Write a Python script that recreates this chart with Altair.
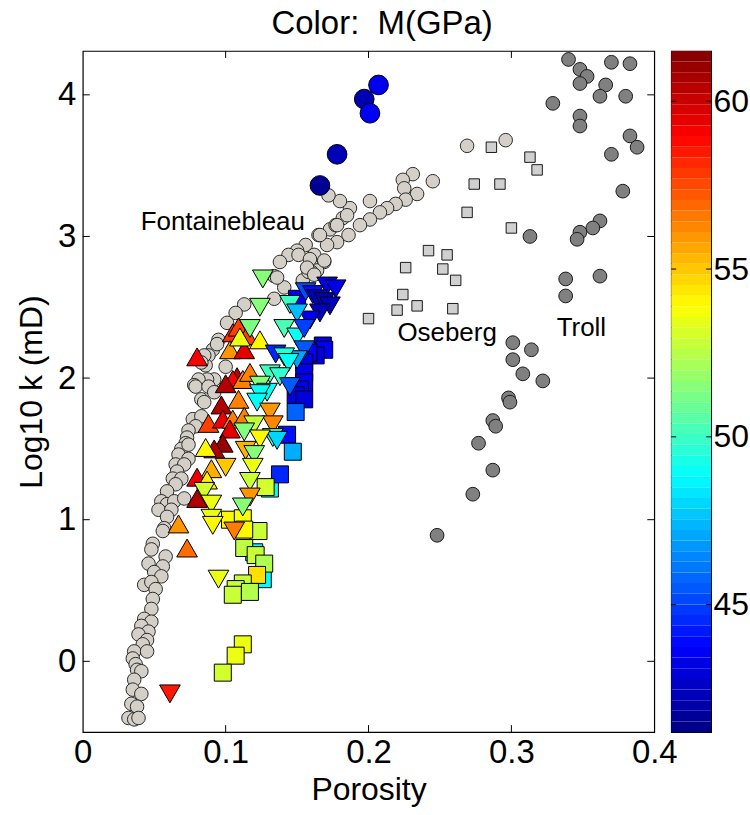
import altair as alt
import pandas as pd
import numpy as np

FONT = "Liberation Sans"

# ---------------- data (porosity, log10 k) ----------------
FONTAINEBLEAU_GREY = [
    (0.269, 3.64), (0.296, 3.68), (0.245, 3.39), (0.231, 3.44), (0.224, 3.40), (0.225, 3.34),
    (0.234, 3.30), (0.226, 3.26), (0.219, 3.23), (0.213, 3.20), (0.208, 3.17), (0.201, 3.25),
    (0.201, 3.12), (0.194, 3.08), (0.186, 3.01), (0.178, 2.96), (0.171, 2.94), (0.165, 3.01),
    (0.173, 3.05), (0.177, 3.08), (0.182, 3.13), (0.187, 3.20), (0.180, 3.25), (0.172, 3.29),
    (0.156, 2.94), (0.162, 2.87), (0.169, 2.82), (0.164, 2.76), (0.160, 2.75), (0.154, 2.69),
    (0.150, 2.90), (0.144, 2.87), (0.138, 2.82), (0.134, 2.72), (0.141, 2.64), (0.134, 2.56),
    (0.113, 2.52), (0.107, 2.46), (0.101, 2.39), (0.095, 2.27), (0.091, 2.20), (0.088, 2.16),
    (0.086, 2.09), (0.100, 2.08), (0.094, 2.24), (0.085, 2.16), (0.083, 2.11), (0.092, 1.99),
    (0.087, 1.99), (0.081, 1.99), (0.078, 1.95), (0.079, 1.94), (0.088, 1.94), (0.092, 1.90),
    (0.083, 1.85), (0.085, 1.83), (0.077, 1.71), (0.083, 1.73), (0.079, 1.66), (0.074, 1.63),
    (0.073, 1.58), (0.072, 1.54), (0.069, 1.50), (0.074, 1.53), (0.067, 1.46), (0.074, 1.43),
    (0.065, 1.39), (0.071, 1.39), (0.066, 1.34), (0.063, 1.29), (0.069, 1.29), (0.065, 1.25),
    (0.059, 1.20), (0.055, 1.13), (0.059, 1.11), (0.064, 1.13), (0.053, 1.07), (0.062, 1.07),
    (0.071, 1.15), (0.059, 1.02), (0.057, 0.94), (0.056, 0.92), (0.049, 0.83), (0.048, 0.79),
    (0.058, 0.74), (0.046, 0.69), (0.056, 0.67), (0.050, 0.63), (0.055, 0.60), (0.043, 0.54),
    (0.048, 0.56), (0.051, 0.51), (0.049, 0.44), (0.048, 0.37), (0.043, 0.30), (0.048, 0.28),
    (0.041, 0.25), (0.046, 0.21), (0.039, 0.19), (0.045, 0.15), (0.042, 0.12), (0.036, 0.07),
    (0.045, 0.07), (0.035, 0.02), (0.037, -0.02), (0.038, -0.06), (0.041, -0.07), (0.036, -0.13),
    (0.035, -0.20), (0.041, -0.23), (0.034, -0.30), (0.038, -0.32), (0.032, -0.40), (0.036, -0.41),
    (0.039, -0.40), (0.185, 3.15), (0.178, 3.08), (0.166, 3.01), (0.169, 2.83), (0.158, 2.75),
    (0.151, 2.87), (0.159, 2.84), (0.157, 2.78), (0.162, 2.73), (0.136, 2.71),
]

# Fontainebleau samples with modulus (porosity, log10 k, M GPa)
FONTAINEBLEAU_M = [
    (0.207, 4.07, 43.4), (0.197, 3.97, 42.2), (0.201, 3.87, 43.6), (0.178, 3.58, 42.3), (0.166, 3.36, 41.6),
]

OSEBERG = [
    (0.286, 3.63), (0.313, 3.56), (0.318, 3.47), (0.274, 3.37), (0.292, 3.37), (0.269, 3.17),
    (0.300, 3.06), (0.242, 2.90), (0.255, 2.87), (0.226, 2.78), (0.252, 2.77), (0.261, 2.69),
    (0.224, 2.59), (0.234, 2.51), (0.220, 2.48), (0.259, 2.49), (0.200, 2.42),
]

TROLL = [
    (0.340, 4.25), (0.348, 4.18), (0.353, 4.13), (0.348, 4.08), (0.370, 4.23), (0.383, 4.22),
    (0.366, 4.07), (0.362, 3.99), (0.380, 3.99), (0.329, 3.94), (0.348, 3.85), (0.348, 3.78),
    (0.383, 3.71), (0.388, 3.63), (0.370, 3.58), (0.378, 3.32), (0.313, 3.00), (0.362, 3.11),
    (0.357, 3.06), (0.348, 3.03), (0.346, 2.98), (0.338, 2.70), (0.362, 2.72), (0.338, 2.58),
    (0.301, 2.25), (0.314, 2.20), (0.301, 2.13), (0.308, 2.03), (0.322, 1.98), (0.298, 1.86),
    (0.299, 1.83), (0.287, 1.70), (0.289, 1.66), (0.277, 1.54), (0.287, 1.35), (0.273, 1.18),
    (0.248, 0.89),
]

# coloured samples (porosity, log10 k, M GPa)
SQUARES_M = [
    (0.120, 0.77, 48.8), (0.126, 0.58, 48.8), (0.131, 1.22, 48.8), (0.150, 2.56, 43.5),
    (0.168, 2.23, 43.3), (0.169, 2.20, 43.5), (0.163, 2.16, 43.0), (0.158, 2.18, 43.7),
    (0.155, 2.11, 43.3), (0.155, 2.04, 43.3), (0.155, 1.97, 43.5), (0.152, 1.92, 43.5),
    (0.149, 1.88, 43.3), (0.155, 1.85, 43.0), (0.149, 1.76, 45.7), (0.143, 1.60, 44.0),
    (0.147, 1.48, 47.2), (0.138, 1.32, 44.5), (0.128, 1.23, 53.0), (0.103, 1.00, 54.0),
    (0.112, 1.01, 53.8), (0.123, 0.92, 52.8), (0.113, 0.93, 54.0), (0.113, 0.80, 52.6),
    (0.121, 0.75, 52.8), (0.127, 0.69, 52.3), (0.122, 0.61, 54.5), (0.112, 0.55, 52.8),
    (0.107, 0.51, 52.8), (0.117, 0.49, 52.4), (0.105, 0.47, 52.8), (0.112, 0.12, 53.5),
    (0.107, 0.04, 53.5), (0.098, -0.08, 53.0),
]

TRI_UP_M = [
    (0.080, 2.15, 59.0), (0.105, 2.32, 58.0), (0.109, 2.36, 57.7), (0.115, 2.30, 57.7),
    (0.103, 2.20, 56.0), (0.113, 2.20, 59.5), (0.110, 2.29, 53.5), (0.124, 2.27, 54.0),
    (0.108, 2.01, 60.3), (0.105, 1.99, 59.0), (0.100, 1.96, 60.5), (0.112, 1.99, 56.4),
    (0.117, 2.04, 56.4), (0.097, 1.81, 60.5), (0.109, 1.85, 56.4), (0.088, 1.68, 57.7),
    (0.098, 1.71, 59.3), (0.105, 1.71, 56.5), (0.113, 1.73, 56.4), (0.103, 1.64, 59.5),
    (0.098, 1.54, 61.0), (0.092, 1.50, 60.5), (0.086, 1.51, 54.0), (0.090, 1.36, 55.5),
    (0.080, 1.30, 59.3), (0.087, 1.28, 54.2), (0.080, 1.15, 60.5), (0.067, 0.97, 56.0),
    (0.073, 0.80, 56.8),
]

TRI_DOWN_M = [
    (0.126, 2.70, 51.5), (0.124, 2.50, 51.5), (0.117, 2.35, 51.3), (0.156, 2.61, 45.3),
    (0.171, 2.65, 43.5), (0.177, 2.63, 43.3), (0.161, 2.59, 44.0), (0.164, 2.56, 42.5),
    (0.169, 2.54, 42.3), (0.173, 2.51, 42.5), (0.166, 2.46, 42.5), (0.159, 2.41, 43.5),
    (0.145, 2.52, 50.0), (0.150, 2.46, 47.5), (0.141, 2.35, 50.3), (0.150, 2.29, 49.0),
    (0.155, 2.35, 45.0), (0.155, 2.20, 45.5), (0.135, 2.17, 44.5), (0.150, 2.13, 47.0),
    (0.141, 2.15, 49.5), (0.144, 2.11, 49.0), (0.131, 2.03, 50.0), (0.138, 2.01, 49.8),
    (0.124, 1.95, 51.5), (0.129, 1.90, 49.0), (0.145, 1.94, 45.5), (0.124, 1.89, 49.0),
    (0.122, 1.83, 48.8), (0.131, 1.76, 56.0), (0.133, 1.67, 56.3), (0.120, 1.67, 52.7),
    (0.113, 1.62, 51.4), (0.133, 1.58, 50.0), (0.136, 1.56, 48.0), (0.124, 1.57, 54.0),
    (0.114, 1.49, 55.4), (0.120, 1.46, 51.5), (0.119, 1.37, 53.5), (0.100, 1.37, 55.0),
    (0.117, 1.27, 52.8), (0.117, 1.16, 56.0), (0.112, 1.09, 51.5), (0.085, 1.20, 53.0),
    (0.090, 1.11, 53.5), (0.090, 1.01, 53.5), (0.091, 0.96, 54.0), (0.106, 0.92, 56.5),
    (0.095, 0.58, 53.5), (0.061, -0.23, 58.5),
]

LABELS = ["Fontainebleau", "Oseberg", "Troll"]
LABEL_PHI = [0.098, 0.255, 0.349]
LABEL_K = [3.10, 2.32, 2.35]

X_TICKS = [0, 0.1, 0.2, 0.3, 0.4]
Y_TICKS = [0, 1, 2, 3, 4]
CB_TICKS = [45, 50, 55, 60]
M_MIN, M_MAX = 41.2, 61.5

# ---------------- scales / axes ----------------
W, H = 573, 683
xs = alt.Scale(domain=[0, 0.4], nice=False, zero=False)
ys = alt.Scale(domain=[-0.5, 4.31], nice=False, zero=False)
jet_dom = [M_MIN + f * (M_MAX - M_MIN) for f in (0, 0.125, 0.375, 0.625, 0.875, 1)]
jet_rng = ["#000080", "#0000FF", "#00FFFF", "#FFFF00", "#FF0000", "#800000"]
cscale = alt.Scale(domain=jet_dom, range=jet_rng, interpolate="rgb")

xaxis = alt.Axis(values=X_TICKS, format="~g", title="Porosity", ticks=False, domain=False,
                 grid=False, labelPadding=4, titlePadding=6, labelFontSize=33, titleFontSize=32,
                 labelFlush=False)
yaxis = alt.Axis(values=Y_TICKS, format="d", title="Log10 k (mD)", ticks=False, domain=False,
                 grid=False, labelPadding=7, titlePadding=9, labelFontSize=33, titleFontSize=32,
                 labelFlush=False)

X = alt.X("phi:Q", scale=xs, axis=xaxis)
Y = alt.Y("k:Q", scale=ys, axis=yaxis)


def df2(rows):
    return pd.DataFrame(rows, columns=["phi", "k"])


def df3(rows):
    return pd.DataFrame(rows, columns=["phi", "k", "M"])


grey = alt.Chart(df2(FONTAINEBLEAU_GREY)).mark_point(
    shape="circle", filled=True, size=185, fill="#D4D0C8", stroke="#2a2a2a", strokeWidth=1, opacity=1
).encode(x=X, y=Y)

oseberg = alt.Chart(df2(OSEBERG)).mark_point(
    shape="square", filled=True, size=110, fill="#D0D0D0", stroke="#1a1a1a", strokeWidth=1, opacity=1
).encode(x=X, y=Y)

troll = alt.Chart(df2(TROLL)).mark_point(
    shape="circle", filled=True, size=190, fill="#808080", stroke="#1a1a1a", strokeWidth=1, opacity=1
).encode(x=X, y=Y)

F = alt.Fill("M:Q", scale=cscale, legend=None)

squares = alt.Chart(df3(SQUARES_M)).mark_point(
    shape="square", filled=True, size=290, stroke="black", strokeWidth=1, opacity=1
).encode(x=X, y=Y, fill=F)

tri_up = alt.Chart(df3(TRI_UP_M)).mark_point(
    shape="triangle-up", filled=True, size=430, stroke="black", strokeWidth=1, opacity=1
).encode(x=X, y=Y, fill=F)

tri_down = alt.Chart(df3(TRI_DOWN_M)).mark_point(
    shape="triangle-down", filled=True, size=430, stroke="black", strokeWidth=1, opacity=1
).encode(x=X, y=Y, fill=F)

big = alt.Chart(df3(FONTAINEBLEAU_M)).mark_point(
    shape="circle", filled=True, size=390, stroke="black", strokeWidth=1, opacity=1
).encode(x=X, y=Y, fill=F)

labels = alt.Chart(pd.DataFrame({"phi": LABEL_PHI, "k": LABEL_K, "t": LABELS})).mark_text(
    font=FONT, fontSize=26, color="black", align="center", baseline="middle"
).encode(x=X, y=Y, text="t:N")

xt = pd.DataFrame({"v": X_TICKS[1:-1]})
yt = pd.DataFrame({"v": Y_TICKS})
tick_bottom = alt.Chart(xt).mark_rule(color="black", strokeWidth=1).encode(
    x=alt.X("v:Q", scale=xs, axis=xaxis), y=alt.value(H), y2=alt.value(H - 7))
tick_top = alt.Chart(xt).mark_rule(color="black", strokeWidth=1).encode(
    x=alt.X("v:Q", scale=xs, axis=xaxis), y=alt.value(0), y2=alt.value(7))
tick_left = alt.Chart(yt).mark_rule(color="black", strokeWidth=1).encode(
    y=alt.Y("v:Q", scale=ys, axis=yaxis), x=alt.value(0), x2=alt.value(7))
tick_right = alt.Chart(yt).mark_rule(color="black", strokeWidth=1).encode(
    y=alt.Y("v:Q", scale=ys, axis=yaxis), x=alt.value(W - 7), x2=alt.value(W))

main = alt.layer(
    grey, oseberg, troll, squares, tri_up, tri_down, big, labels,
    tick_bottom, tick_top, tick_left, tick_right
).properties(width=W, height=H)

# ---------------- colour bar ----------------
edges = np.linspace(M_MIN, M_MAX, 65)
bands = pd.DataFrame({"lo": edges[:-1], "hi": edges[1:], "mid": (edges[:-1] + edges[1:]) / 2})
cbs = alt.Scale(domain=[M_MIN, M_MAX], nice=False, zero=False)
cbaxis = alt.Axis(values=CB_TICKS, orient="right", title=None, ticks=False, domain=False,
                  grid=False, labelPadding=2, labelFontSize=32, labelFlush=False)
cb_rect = alt.Chart(bands).mark_rect().encode(
    y=alt.Y("lo:Q", scale=cbs, axis=cbaxis), y2="hi:Q",
    x=alt.value(0), x2=alt.value(40),
    fill=alt.Fill("mid:Q", scale=cscale, legend=None))
cbt = pd.DataFrame({"v": CB_TICKS})
cb_tl = alt.Chart(cbt).mark_rule(color="black").encode(
    y=alt.Y("v:Q", scale=cbs, axis=cbaxis), x=alt.value(0), x2=alt.value(5))
cb_tr = alt.Chart(cbt).mark_rule(color="black").encode(
    y=alt.Y("v:Q", scale=cbs, axis=cbaxis), x=alt.value(35), x2=alt.value(40))
cbar = alt.layer(cb_rect, cb_tl, cb_tr).properties(width=40, height=H)

chart = alt.hconcat(main, cbar, spacing=17, bounds="flush").resolve_scale(fill="shared").properties(
    title=alt.TitleParams("Color:\u00a0\u00a0M(GPa)", fontSize=33, font=FONT, fontWeight="normal",
                          anchor="middle", color="black", offset=9)
).configure(
    font=FONT, padding={"left": 15, "top": 6, "right": 0, "bottom": 0}
).configure_view(stroke="black", strokeWidth=1.2).configure_axis(
    labelFont=FONT, titleFont=FONT, labelColor="black", titleColor="black", titleFontWeight="normal"
)

chart.save("out.html", embed_options={"renderer": "svg", "actions": False})
